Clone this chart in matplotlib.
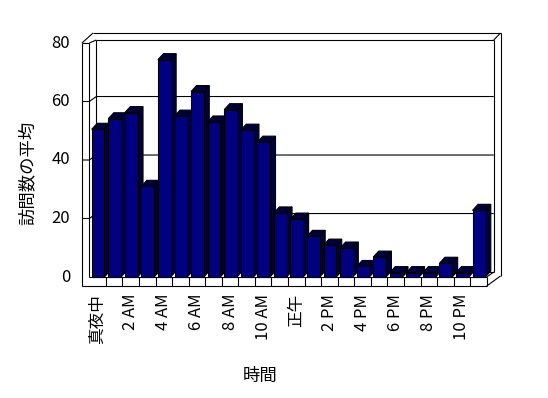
import matplotlib
matplotlib.use('Agg')
import matplotlib.pyplot as plt
from matplotlib.patches import Polygon, Rectangle

# ---- data ----
hours = list(range(24))
visits = [50.5, 54.1, 56.2, 31.0, 74.3, 55.0, 63.4, 53.0, 57.2, 50.2, 46.1, 21.9,
          19.8, 13.9, 10.9, 9.9, 3.6, 6.8, 1.5, 1.5, 1.5, 4.7, 1.5, 22.8]
tick_pos = [0, 2, 4, 6, 8, 10, 12, 14, 16, 18, 20, 22]
tick_labels = ['真夜中', '2 AM', '4 AM', '6 AM', '8 AM', '10 AM', '正午',
               '2 PM', '4 PM', '6 PM', '8 PM', '10 PM']
y_ticks = [0, 20, 40, 60, 80]
y_label = '訪問数の平均'
x_label = '時間'

plt.rcParams['font.family'] = ['Noto Sans CJK JP', 'DejaVu Sans']

# ---- layout (pixel -> data mapping) ----
X0, Y0 = 89.3, 277.0
SX, SY = 16.56, 2.925
def X(px):
    return (px - X0) / SX
def Y(py):
    return (Y0 - py) / SY

fig = plt.figure(figsize=(5.48, 3.98), dpi=100)
ax = fig.add_axes([0, 0, 1, 1])
ax.set_xlim(X(0), X(548))
ax.set_ylim(Y(398), Y(0))
ax.axis('off')

lw = 0.8
n = len(hours)
ymax = y_ticks[-1]
wt = X(82)            # left wall outer front (negative)
bdx = 7 / SX          # back wall depth offset
bdy = 1.7             # back wall depth offset (value units)
floor_b = Y(286)
top_out = Y(33)
top_in = Y(40)
right_out = X(500.5)
right_in = n + bdx

def seg(xs, ys, z=1):
    ax.plot(xs, ys, color='black', lw=lw, solid_capstyle='butt', zorder=z)

# walls / frame
seg([wt, wt], [ymax, floor_b])
seg([wt, n], [floor_b, floor_b])
seg([0, 0], [ymax, 0])
seg([wt, 0], [ymax, ymax])
seg([wt, X(93)], [ymax, top_out])
seg([X(93), right_out], [top_out, top_out])
seg([right_out, right_out], [top_out, Y(276)])
seg([right_out, right_in], [top_out, top_in])
seg([0, bdx], [ymax, top_in])
seg([bdx, right_in], [top_in, top_in])
seg([bdx, bdx], [top_in, bdy])
seg([right_in, right_in], [top_in, bdy])
seg([bdx, right_in], [bdy, bdy])
seg([0, n], [0, 0])
seg([n, right_in], [0, bdy])
seg([n, right_out], [floor_b, Y(276)])
for k in range(1, n + 1):
    seg([k, k], [floor_b, 0])
for v in y_ticks[1:-1]:
    seg([wt, 0, bdx, right_in], [v, v, v + bdy, v + bdy])

# bars
off, w = 0.145, 0.767
ddx, ddy = 5.5 / SX, 6 / SY
front_c = '#000080'
dark_c = '#00003c'
for i, v in zip(hours, visits):
    xl = i + off
    xr = xl + w
    z = 2 + i * 0.01
    side = Polygon([(xr, 0), (xr, v), (xr + ddx, v + ddy), (xr + ddx, ddy)],
                   closed=True, facecolor=dark_c, edgecolor='black', lw=lw, zorder=z)
    top = Polygon([(xl, v), (xr, v), (xr + ddx, v + ddy), (xl + ddx, v + ddy)],
                  closed=True, facecolor=dark_c, edgecolor='black', lw=lw, zorder=z)
    front = Rectangle((xl, 0), w, v, facecolor=front_c, edgecolor='black', lw=lw, zorder=z + 0.001)
    ax.add_patch(side)
    ax.add_patch(top)
    ax.add_patch(front)

# tick labels
for v in y_ticks:
    ax.text(X(70), v, str(v), ha='right', va='center', fontsize=12)
for p, lab in zip(tick_pos, tick_labels):
    ax.text(p + 0.5, Y(294), lab, ha='center', va='top', rotation=90, fontsize=12)

ax.text(X(28), Y(173), y_label, ha='center', va='center', rotation=90, fontsize=12.5)
ax.text(X(260), Y(376), x_label, ha='center', va='center', fontsize=12.5)

fig.savefig('out.png', dpi=100, facecolor='white')
